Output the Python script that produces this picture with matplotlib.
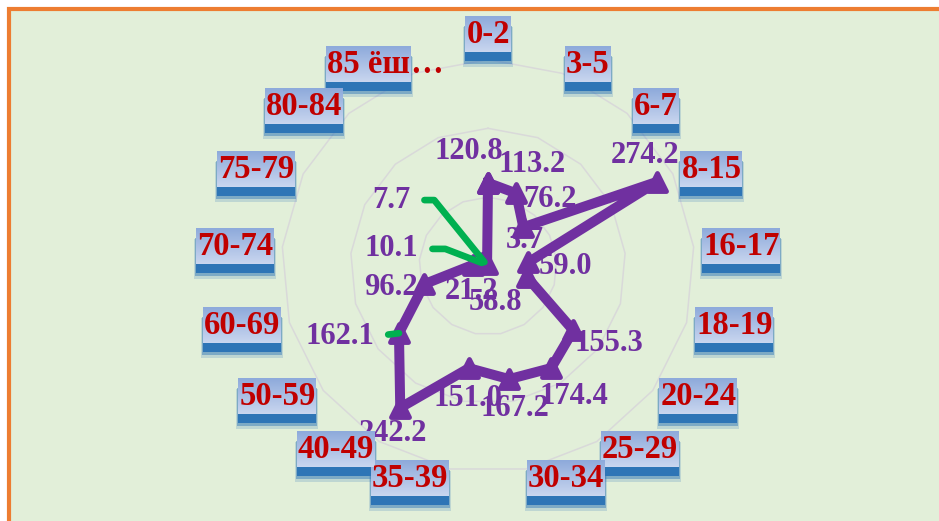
"""
Radar chart: values by age group, with boxed category labels
"""

import numpy as np
import matplotlib
matplotlib.use("Agg")
import matplotlib.pyplot as plt
from matplotlib.patches import Rectangle
from matplotlib.markers import MarkerStyle
from matplotlib.text import Annotation
from matplotlib.transforms import IdentityTransform

categories = ["0-2", "3-5", "6-7", "8-15", "16-17", "18-19", "20-24", "25-29",
              "30-34", "35-39", "40-49", "50-59", "60-69", "70-74", "75-79",
              "80-84", "85 ёш…"]
values = [120.8, 113.2, 76.2, 274.2, 59.0, 58.8, 155.3, 174.4,
          167.2, 151.0, 242.2, 162.1, 96.2, 21.2, 10.1, 7.7, 3.7]
ring_values = [100, 200, 300]

# where each value label sits, pixels from its point (x right, y up)
label_offsets = [(-19, 31), (16, 29), (27, 28), (-12, 26), (37, -4), (-31, -25),
                 (36, -13), (23, -28), (6, -29), (-1, -30), (-7, -26), (-59, -3),
                 (-33, -3), (-2, -27), (-90, 14), (-93, 62), (38, 23)]
# labels that were dragged away get a leader line
leaders = {11: "arc3,rad=0",
           14: "angle,angleA=0,angleB=-21,rad=0",
           15: "angle,angleA=0,angleB=-51,rad=0"}

PURPLE = "#7030a0"
GREEN = "#00b050"
RED = "#c00000"
BG = "#e2efd9"
ORANGE = "#ed7d31"
GRID = "#d9d9d9"
SHADOW = "#2e75b6"
BOX_TOP = np.array([0x8e, 0xaa, 0xdb]) / 255.0
BOX_BOTTOM = np.array([0xc9, 0xd6, 0xef]) / 255.0
SERIF = "Liberation Serif"

W, H = 939, 521
fig = plt.figure(figsize=(W / 100, H / 100), dpi=100, facecolor="white")
fig.add_artist(Rectangle((9, -10), W, H + 1, transform=IdentityTransform(),
                         facecolor=BG, edgecolor=ORANGE, lw=3, zorder=-5))

cx, cy, R = 488, 266, 206.5
ax = fig.add_axes([(cx - R) / W, (H - cy - R) / H, 2 * R / W, 2 * R / H],
                  projection="polar")
ax.patch.set_alpha(0)
ax.set_theta_zero_location("N")
ax.set_theta_direction(-1)
ax.set_ylim(0, 300)
ax.grid(False)
ax.set_xticks([])
ax.set_yticks([])
ax.spines["polar"].set_visible(False)

n = len(categories)
theta = np.linspace(0, 2 * np.pi, n, endpoint=False)
tc = np.append(theta, theta[0])

for v in ring_values:
    ax.plot(tc, [v] * (n + 1), color=GRID, lw=1.1, zorder=1, clip_on=False)

ax.plot(tc, values + values[:1], color=PURPLE, lw=7.2, solid_joinstyle="round",
        marker=MarkerStyle("^", joinstyle="round"), ms=12.5, mec=PURPLE, mew=3.5,
        zorder=4, clip_on=False)

for i, (t, v) in enumerate(zip(theta, values)):
    kw = dict(xy=(t, v), xytext=label_offsets[i], textcoords="offset pixels",
              ha="center", va="center", fontsize=22, fontweight="bold",
              family=SERIF, color=PURPLE, zorder=3, annotation_clip=False)
    if i in leaders:
        kw["arrowprops"] = dict(arrowstyle="-", color=GREEN, lw=4.8,
                                connectionstyle=leaders[i], shrinkA=8,
                                shrinkB=0, relpos=(1, 0.5))
        kw["zorder"] = 5
    ax.annotate(f"{v:.1f}", **kw)

# category labels live on the figure so their boxes can sit above the plot
LABEL_R = 314
cat_texts = []
for t, name in zip(theta, categories):
    s = np.sin(t)
    if abs(s) < 0.05:
        ha, va = "center", "bottom"
    else:
        ha, va = ("left" if s > 0 else "right"), "center"
    boxed = name.rstrip("…")
    txt = fig.text(t, LABEL_R, boxed, transform=ax.transData, ha=ha, va=va,
                   fontsize=23.5, fontweight="bold", family=SERIF, color=RED,
                   zorder=3)
    cat_texts.append(txt)
    if boxed != name:
        fig.add_artist(Annotation(name[len(boxed):], xy=(1, 0), xycoords=txt,
                                  ha="left", va="bottom", fontsize=23.5,
                                  fontweight="bold", family=SERIF, color=RED,
                                  zorder=3))

fig.canvas.draw()
for txt in cat_texts:
    bb = txt.get_window_extent()
    x0, y0 = int(round(bb.x0)) - 1, int(round(bb.y0)) - 2
    w, h = int(round(bb.width)) + 2, int(round(bb.height)) + 5
    for dy, grow, a in [(13, 2, 0.2), (11, 1, 0.45), (9, 0, 1.0)]:
        fig.add_artist(Rectangle((x0 - grow, y0 - dy - grow), w + 2 * grow, h + 2 * grow,
                                 transform=IdentityTransform(), facecolor=SHADOW,
                                 edgecolor="none", alpha=a, zorder=1))
    ramp = np.linspace(0, 1, h)[:, None, None]
    grad = np.repeat(BOX_TOP + ramp * (BOX_BOTTOM - BOX_TOP), w, axis=1)
    fig.figimage(grad, xo=x0, yo=y0, origin="upper", zorder=2)

fig.savefig("out.png", dpi=100)
